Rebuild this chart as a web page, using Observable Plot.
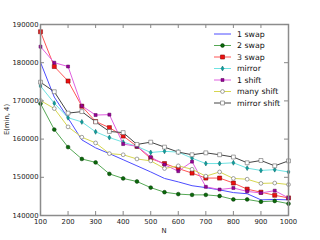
<!DOCTYPE html>
<html><head><meta charset="utf-8">
<script src="https://cdn.jsdelivr.net/npm/d3@7"></script>
<script src="https://cdn.jsdelivr.net/npm/@observablehq/plot@0.6"></script>
<style>body{margin:0;background:#fff}#c{width:320px;height:240px}</style>
</head><body><div id="c"></div>
<script>
const N = [100,150,200,250,300,350,400,450,500,550,600,650,700,750,800,850,900,950,1000];
const swap1 = [180100,171000,165500,159800,157700,156200,154600,153000,151400,149700,148800,147800,147300,146700,146000,145700,144100,144200,144100];
const swap2 = [169300,162500,157900,154800,153900,150900,149700,148900,147300,146100,145600,145400,145400,145100,144200,144200,143600,143800,143100];
const swap3 = [188100,179000,175200,168600,164600,163000,160800,158100,154900,153600,152300,151100,149800,149800,148500,146900,146100,145300,144600];
const mirror = [173900,169400,165600,164500,161900,160400,159200,158100,156500,156800,156600,155000,153600,153600,153800,152400,151800,152000,151400];
const shift1 = [184200,180000,179000,168700,166300,166400,158700,158100,155300,153300,151600,154100,147500,146800,147200,146300,145900,146500,144600];
const manyShift = [170100,168000,163200,160500,159000,156200,155900,154800,154300,152300,153000,152100,150300,151400,149700,149500,148400,148500,148100];
const mirrorShift = [174900,172400,166800,167200,164500,162000,161700,158600,159200,157900,156600,155900,156400,155900,155300,153800,154400,153000,154300];
const xTicks = [100,200,300,400,500,600,700,800,900,1000];
const yTicks = [140000,150000,160000,170000,180000,190000];
const seriesNames = ["1 swap","2 swap","3 swap","mirror","1 shift","many shift","mirror shift"];

const styles = [
  {line:"#4d4dff", symbol:null},
  {line:"#55a855", symbol:"circle", r:1.9, fill:"#0a6a0a", stroke:"#053305", sw:0.5},
  {line:"#ff5555", symbol:"square", r:2.3, fill:"#ee1111", stroke:"#770000", sw:0.5},
  {line:"#6fe3e3", symbol:"diamond", r:1.5, fill:"#10a0a0", stroke:"#056060", sw:0.5},
  {line:"#e060e0", symbol:"square", r:1.7, fill:"#990099", stroke:"#550055", sw:0.5},
  {line:"#d6d650", symbol:"circle", r:1.9, fill:"#fff", stroke:"#666", sw:0.6},
  {line:"#444444", symbol:"square", r:2.2, fill:"#fff", stroke:"#666", sw:0.6}
];
const allVals = [swap1,swap2,swap3,mirror,shift1,manyShift,mirrorShift];
const series = seriesNames.map((name,k)=>({name, rows: N.map((n,i)=>({N:n, E:allVals[k][i]})), ...styles[k]}));

const marks = [];
for (const s of series) {
  marks.push(Plot.line(s.rows, {x:"N", y:"E", stroke:s.line, strokeWidth:1}));
  if (s.symbol) marks.push(Plot.dot(s.rows, {x:"N", y:"E", symbol:s.symbol, r:s.r, fill:s.fill, stroke:s.stroke, strokeWidth:s.sw}));
}
const plotH = 240-24-25, plotW = 320-40-32;
const tickCol = "#888";
marks.push(
  Plot.frame({stroke:"#8c8c8c", strokeWidth:1.5}),
  Plot.tickX(xTicks, {x:d=>d, stroke:tickCol, insetTop:plotH-4}),
  Plot.tickX(xTicks, {x:d=>d, stroke:tickCol, insetBottom:plotH-4}),
  Plot.tickY(yTicks, {y:d=>d, stroke:tickCol, insetRight:plotW-4}),
  Plot.tickY(yTicks, {y:d=>d, stroke:tickCol, insetLeft:plotW-4}),
  Plot.axisX(xTicks, {tickSize:0, tickPadding:3.5, tickFormat:d3.format("d"), label:null, fontSize:6.8, fill:"#222"}),
  Plot.axisY(yTicks, {tickSize:0, tickPadding:2, tickFormat:d3.format("d"), label:null, fontSize:6.8, fill:"#222"})
);

const chart = Plot.plot({
  width:320, height:240,
  marginLeft:40, marginRight:32, marginTop:24, marginBottom:25,
  style:{fontFamily:"DejaVu Sans", background:"#fff", overflow:"visible"},
  x:{domain:[100,1000]},
  y:{domain:[140000,190000]},
  marks
});
document.getElementById("c").append(chart);

const svg = d3.select(chart);
svg.append("text").attr("x",164).attr("y",233).attr("text-anchor","middle")
  .attr("font-family","DejaVu Sans").attr("font-size",6.8).attr("fill","#222").text("N");
svg.append("text").attr("transform","translate(9,119.5) rotate(-90)").attr("text-anchor","middle")
  .attr("font-family","DejaVu Sans").attr("font-size",6.8).attr("fill","#222").text("E(min, 4)");

const symMap = {circle:d3.symbolCircle, square:d3.symbolSquare, diamond:d3.symbolDiamond};
const lg = svg.append("g").attr("text-anchor","start");
series.forEach((s,i)=>{
  const y = 34 + i*11.5;
  lg.append("line").attr("x1",214).attr("x2",231).attr("y1",y).attr("y2",y).attr("stroke",s.line).attr("stroke-width",1);
  if (s.symbol) lg.append("path").attr("transform",`translate(222.5,${y})`)
    .attr("d", d3.symbol(symMap[s.symbol], Math.PI*s.r*s.r)()).attr("fill",s.fill).attr("stroke",s.stroke).attr("stroke-width",s.sw);
  lg.append("text").attr("x",237).attr("y",y+2.8).attr("text-anchor","start").attr("font-family","DejaVu Sans").attr("font-size",7.8).attr("fill","#111").text(s.name);
});
</script></body></html>
